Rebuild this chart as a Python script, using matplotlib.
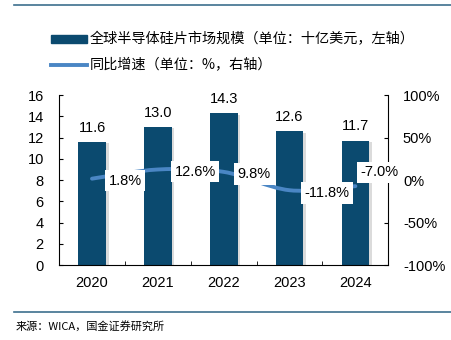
import numpy as np
import matplotlib.pyplot as plt
from matplotlib.path import Path
from matplotlib.patches import PathPatch
import matplotlib.patheffects as pe

plt.rcParams['font.family'] = ['Liberation Sans', 'Noto Sans CJK SC', 'DejaVu Sans']

years = ['2020', '2021', '2022', '2023', '2024']
market = [11.6, 13.0, 14.3, 12.6, 11.7]          # 十亿美元
growth = [1.8, 12.6, 9.8, -11.8, -7.0]           # %
growth_labels = ['1.8%', '12.6%', '9.8%', '-11.8%', '-7.0%']
label_offsets = [(12, -1.5), (12, -1.5), (10, -1.5), (11, -2), (3.6, 10)]   # points

bar_color = '#0b4a6f'
line_color = '#4a86c4'
rule_color = '#3d6f8e'
cjk = ['Noto Sans CJK SC', 'DejaVu Sans']

fig = plt.figure(figsize=(4.51, 3.40), dpi=100)
ax = fig.add_axes([0.131, 0.22, 0.73, 0.50])
x = np.arange(len(years))

ax.bar(x, market, width=0.42, color=bar_color, zorder=2,
       path_effects=[pe.SimplePatchShadow(offset=(2, -1), shadow_rgbFace='#9a9a9a', alpha=0.35),
                     pe.Normal()])
for xi, v in zip(x, market):
    ax.text(xi, v + 0.7, f'{v:.1f}', ha='center', va='bottom', fontsize=10.5)

ax.set_ylim(0, 16)
ax.set_yticks(range(0, 17, 2))
ax.set_xlim(-0.5, len(years) - 0.5)
ax.set_xticks(x, years)
ax.set_xticks(np.arange(-0.5, len(years)), minor=True)
ax.tick_params(axis='x', which='major', length=0, pad=8, labelsize=10.5)
ax.tick_params(axis='x', which='minor', length=3, direction='in')
ax.tick_params(axis='y', length=3, direction='in', labelsize=10.5, pad=11)
for s in ['top', 'right']:
    ax.spines[s].set_visible(False)

ax2 = ax.twinx()
ax2.set_ylim(-100, 100)
ax2.set_yticks([-100, -50, 0, 50, 100], ['-100%', '-50%', '0%', '50%', '100%'])
ax2.tick_params(axis='y', length=3, direction='in', labelsize=10.5, pad=10.5)
for s in ['top', 'left', 'bottom']:
    ax2.spines[s].set_visible(False)

# smooth growth curve: Catmull-Rom segments turned into cubic Bezier pieces
pts = np.column_stack([x, growth]).astype(float)
verts = [pts[0]]
codes = [Path.MOVETO]
for i in range(len(pts) - 1):
    p0 = pts[i - 1] if i > 0 else pts[i]
    p1, p2 = pts[i], pts[i + 1]
    p3 = pts[i + 2] if i + 2 < len(pts) else pts[i + 1]
    c1 = p1 + (p2 - p0) / 6
    c2 = p2 - (p3 - p1) / 6
    verts += [c1, c2, p2]
    codes += [Path.CURVE4] * 3
ax2.add_patch(PathPatch(Path(verts, codes), fill=False, edgecolor=line_color,
                        lw=2.8, capstyle='round', zorder=3))

for xi, g, lab, off in zip(x, growth, growth_labels, label_offsets):
    ax2.annotate(lab, (xi, g), xytext=off, textcoords='offset points',
                 ha='left', va='center', fontsize=10.5, zorder=4,
                 bbox=dict(boxstyle='square,pad=0.25', fc='white', ec='none'))

# legend
fig.patches.append(plt.Rectangle((0.112, 0.873), 0.081, 0.025, transform=fig.transFigure,
                                 color=bar_color, figure=fig))
fig.text(0.198, 0.885, '全球半导体硅片市场规模（单位：十亿美元，左轴）', fontsize=10.2,
         va='center', family=cjk)
fig.lines.append(plt.Line2D([0.112, 0.193], [0.809, 0.809], transform=fig.transFigure,
                            color=line_color, lw=2.8, figure=fig))
fig.text(0.198, 0.809, '同比增速（单位：%，右轴）', fontsize=10.2,
         va='center', family=cjk)

# top and bottom rules, source note
fig.lines.append(plt.Line2D([0.031, 1.0], [0.985, 0.985], transform=fig.transFigure,
                            color=rule_color, lw=1.2, figure=fig))
fig.lines.append(plt.Line2D([0.031, 1.0], [0.083, 0.083], transform=fig.transFigure,
                            color=rule_color, lw=1.2, figure=fig))
fig.text(0.035, 0.04, '来源：WICA，国金证券研究所', fontsize=8,
         va='center', family=cjk)

fig.savefig('out.png', dpi=100)
